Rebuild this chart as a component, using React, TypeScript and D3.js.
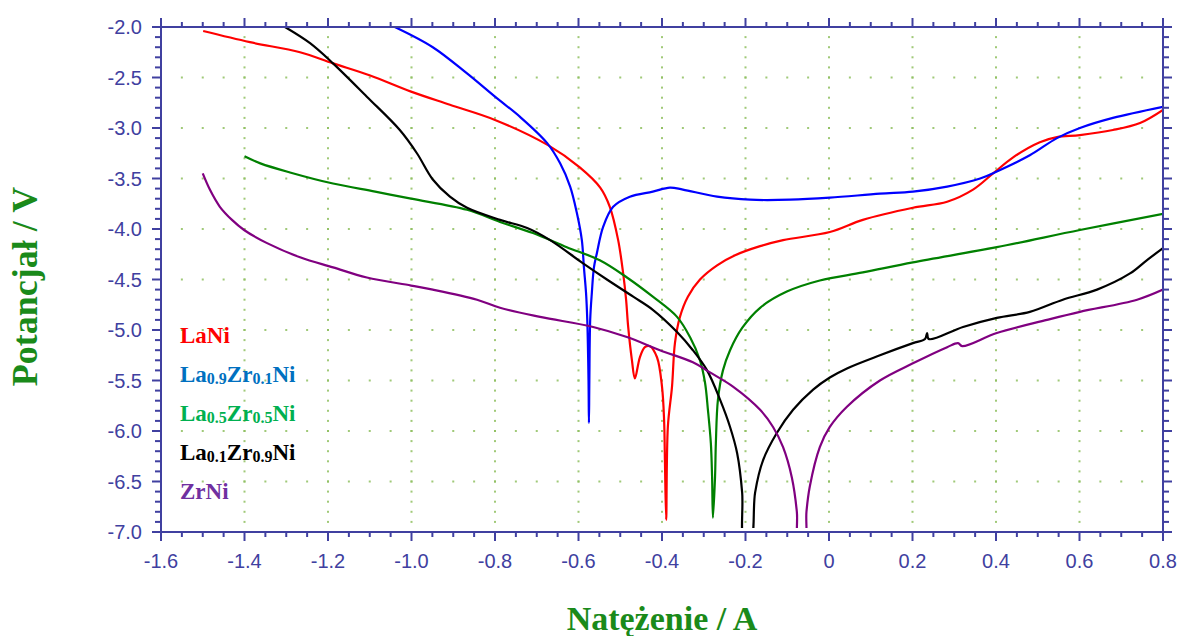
import React from "react";
import * as d3 from "d3";

// Polarisation curves: current (A) vs potential (V)
const laNi: [number, number][] = [
  [-1.499, -2.04], [-1.387, -2.15], [-1.267, -2.25], [-1.188, -2.36], [-1.099, -2.48],
  [-1.001, -2.64], [-0.908, -2.77], [-0.8, -2.92], [-0.673, -3.17], [-0.597, -3.39],
  [-0.548, -3.59], [-0.525, -3.78], [-0.505, -4.11], [-0.493, -4.44], [-0.486, -4.7],
  [-0.481, -4.97], [-0.472, -5.3], [-0.465, -5.48], [-0.453, -5.27], [-0.441, -5.17],
  [-0.429, -5.16], [-0.412, -5.27], [-0.4, -5.56], [-0.395, -5.89], [-0.393, -6.29],
  [-0.39, -6.88], [-0.386, -5.96], [-0.376, -5.56], [-0.369, -5.13], [-0.357, -4.87],
  [-0.338, -4.67], [-0.309, -4.5], [-0.268, -4.36], [-0.225, -4.26], [-0.165, -4.17],
  [-0.11, -4.11], [0.002, -4.03], [0.081, -3.91], [0.201, -3.79], [0.283, -3.73],
  [0.345, -3.61], [0.393, -3.45], [0.441, -3.29], [0.505, -3.14], [0.546, -3.09],
  [0.601, -3.07], [0.68, -3.02], [0.745, -2.95], [0.8, -2.82],
];

const la09Zr01Ni: [number, number][] = [
  [-1.04, -2.0], [-0.949, -2.2], [-0.867, -2.46], [-0.8, -2.69], [-0.74, -2.89],
  [-0.675, -3.15], [-0.644, -3.35], [-0.62, -3.58], [-0.604, -3.84], [-0.592, -4.11],
  [-0.587, -4.38], [-0.582, -4.63], [-0.579, -4.9], [-0.576, -5.5], [-0.575, -5.92],
  [-0.574, -5.5], [-0.572, -4.9], [-0.568, -4.63], [-0.563, -4.38], [-0.556, -4.24],
  [-0.541, -3.98], [-0.517, -3.78], [-0.477, -3.68], [-0.422, -3.63], [-0.381, -3.59],
  [-0.35, -3.61], [-0.268, -3.68], [-0.189, -3.71], [-0.093, -3.71], [0.002, -3.69],
  [0.122, -3.65], [0.201, -3.63], [0.283, -3.58], [0.362, -3.5], [0.402, -3.43],
  [0.481, -3.27], [0.546, -3.1], [0.601, -3.0], [0.68, -2.9], [0.8, -2.79],
];

const la05Zr05Ni: [number, number][] = [
  [-1.4, -3.28], [-1.362, -3.35], [-1.291, -3.44], [-1.188, -3.55], [-1.087, -3.63],
  [-1.001, -3.7], [-0.867, -3.81], [-0.788, -3.93], [-0.709, -4.04], [-0.628, -4.18],
  [-0.549, -4.31], [-0.484, -4.48], [-0.422, -4.67], [-0.364, -4.87], [-0.333, -5.07],
  [-0.309, -5.3], [-0.297, -5.52], [-0.29, -5.79], [-0.283, -6.12], [-0.28, -6.46],
  [-0.278, -6.86], [-0.273, -6.46], [-0.271, -6.12], [-0.266, -5.69], [-0.254, -5.4],
  [-0.237, -5.2], [-0.208, -4.98], [-0.165, -4.78], [-0.101, -4.62], [-0.022, -4.51],
  [0.081, -4.43], [0.201, -4.33], [0.402, -4.18], [0.601, -4.01], [0.8, -3.85],
];

const la01Zr09Ni: [number, number][] = [
  [-1.303, -2.0], [-1.243, -2.16], [-1.188, -2.36], [-1.107, -2.69], [-1.028, -3.02],
  [-0.987, -3.25], [-0.949, -3.51], [-0.908, -3.68], [-0.867, -3.79], [-0.788, -3.91],
  [-0.723, -3.99], [-0.668, -4.11], [-0.589, -4.34], [-0.532, -4.5], [-0.469, -4.67],
  [-0.422, -4.8], [-0.364, -5.02], [-0.326, -5.2], [-0.292, -5.4], [-0.261, -5.69],
  [-0.237, -5.96], [-0.22, -6.22], [-0.208, -6.61], [-0.203, -7.1], [-0.188, -7.1],
  [-0.177, -6.61], [-0.158, -6.29], [-0.125, -6.02], [-0.086, -5.79], [-0.038, -5.59],
  [0.002, -5.47], [0.043, -5.38], [0.122, -5.25], [0.201, -5.13], [0.23, -5.09],
  [0.235, -5.03], [0.239, -5.09], [0.321, -4.97], [0.402, -4.88], [0.481, -4.82],
  [0.56, -4.7], [0.642, -4.6], [0.721, -4.44], [0.761, -4.31], [0.8, -4.19],
];

const zrNi: [number, number][] = [
  [-1.5, -3.45], [-1.483, -3.61], [-1.459, -3.78], [-1.43, -3.91], [-1.401, -4.01],
  [-1.346, -4.14], [-1.267, -4.28], [-1.188, -4.38], [-1.107, -4.48], [-1.001, -4.56],
  [-0.949, -4.6], [-0.843, -4.7], [-0.788, -4.78], [-0.692, -4.87], [-0.565, -4.97],
  [-0.484, -5.07], [-0.405, -5.2], [-0.326, -5.32], [-0.285, -5.42], [-0.23, -5.56],
  [-0.165, -5.79], [-0.134, -5.96], [-0.11, -6.16], [-0.089, -6.46], [-0.077, -6.8],
  [-0.073, -7.1], [-0.058, -7.1], [-0.054, -6.8], [-0.046, -6.55], [-0.022, -6.16],
  [0.002, -5.96], [0.043, -5.76], [0.122, -5.5], [0.201, -5.33], [0.283, -5.17],
  [0.309, -5.13], [0.319, -5.16], [0.402, -5.03], [0.522, -4.9], [0.601, -4.82],
  [0.738, -4.7], [0.8, -4.6],
];

const seriesColors = ["#ff0000", "#0000ff", "#008000", "#000000", "#800080"];
const seriesData = [laNi, la09Zr01Ni, la05Zr05Ni, la01Zr09Ni, zrNi];

// Legend entries: [text, subscript] parts
const legendParts: [string, boolean][][] = [
  [["LaNi", false]],
  [["La", false], ["0.9", true], ["Zr", false], ["0.1", true], ["Ni", false]],
  [["La", false], ["0.5", true], ["Zr", false], ["0.5", true], ["Ni", false]],
  [["La", false], ["0.1", true], ["Zr", false], ["0.9", true], ["Ni", false]],
  [["ZrNi", false]],
];
const legendColors = ["#ff0000", "#0070c0", "#00b050", "#000000", "#7030a0"];

const xTickValues = [-1.6, -1.4, -1.2, -1.0, -0.8, -0.6, -0.4, -0.2, 0, 0.2, 0.4, 0.6, 0.8];
const xTickLabels = ["-1.6", "-1.4", "-1.2", "-1.0", "-0.8", "-0.6", "-0.4", "-0.2", "0", "0.2", "0.4", "0.6", "0.8"];
const yTickValues = [-2.0, -2.5, -3.0, -3.5, -4.0, -4.5, -5.0, -5.5, -6.0, -6.5, -7.0];
const yTickLabels = ["-2.0", "-2.5", "-3.0", "-3.5", "-4.0", "-4.5", "-5.0", "-5.5", "-6.0", "-6.5", "-7.0"];

const xTitle = "Natężenie / A";
const yTitle = "Potancjał / V";

const W = 1180;
const H = 636;
const M = { left: 161, right: 1163, top: 27, bottom: 532 };
const AXIS = "#4040a0";
const GRID = "#8fc060";
const TITLE = "#1a8a1a";

export default function App() {
  const x = d3.scaleLinear().domain([-1.6, 0.8]).range([M.left, M.right]);
  const y = d3.scaleLinear().domain([-7, -2]).range([M.bottom, M.top]);
  const line = d3
    .line<[number, number]>()
    .x((d) => x(d[0]))
    .y((d) => y(d[1]))
    .curve(d3.curveCatmullRom.alpha(0.5));

  const xMinor = d3.range(0, 49).map((i) => -1.6 + i * 0.05);
  const yMinor = d3.range(0, 51).map((i) => -7 + i * 0.1);
  const isMajorX = (v: number) => Math.abs(v * 5 - Math.round(v * 5)) < 1e-6;
  const isMajorY = (v: number) => Math.abs(v * 2 - Math.round(v * 2)) < 1e-6;

  // Dotted grid: dots along major lines at minor spacing
  const dots: { cx: number; cy: number }[] = [];
  yTickValues.slice(1, -1).forEach((yv) => {
    xMinor.slice(1, -1).forEach((xv) => dots.push({ cx: x(xv), cy: y(yv) }));
  });
  xTickValues.slice(1, -1).forEach((xv) => {
    yMinor.slice(1, -1).forEach((yv) => dots.push({ cx: x(xv), cy: y(yv) }));
  });

  return (
    <svg
      width={W}
      height={H}
      style={{ position: "absolute", left: 0, top: 0, background: "#fff" }}
    >
      <defs>
        <clipPath id="plot-clip">
          <rect x={M.left} y={M.top} width={M.right - M.left} height={M.bottom - M.top - 4} />
        </clipPath>
      </defs>

      {dots.map((d, i) => (
        <rect key={i} x={d.cx - 1} y={d.cy - 1} width={2} height={2} fill={GRID} opacity={0.85} />
      ))}

      <g clipPath="url(#plot-clip)">
        {seriesData.map((s, i) => (
          <path
            key={i}
            d={line(s) || ""}
            fill="none"
            stroke={seriesColors[i]}
            strokeWidth={2.2}
            strokeLinejoin="round"
          />
        ))}
      </g>

      {/* frame */}
      <rect
        x={M.left}
        y={M.top}
        width={M.right - M.left}
        height={M.bottom - M.top}
        fill="none"
        stroke={AXIS}
        strokeWidth={2}
      />

      {/* x ticks, top and bottom */}
      {xMinor.map((v, i) => {
        const len = isMajorX(v) ? 9 : 5;
        const px = x(v);
        return (
          <g key={"xt" + i} stroke={AXIS} strokeWidth={2}>
            <line x1={px} x2={px} y1={M.bottom} y2={M.bottom + len} />
            <line x1={px} x2={px} y1={M.top} y2={M.top - len} />
          </g>
        );
      })}
      {/* y ticks, left and right */}
      {yMinor.map((v, i) => {
        const len = isMajorY(v) ? 9 : 6;
        const py = y(v);
        return (
          <g key={"yt" + i} stroke={AXIS} strokeWidth={2}>
            <line x1={M.left} x2={M.left - len} y1={py} y2={py} />
            <line x1={M.right} x2={M.right + len} y1={py} y2={py} />
          </g>
        );
      })}

      {xTickValues.map((v, i) => (
        <text
          key={"xl" + i}
          x={x(v)}
          y={568}
          textAnchor="middle"
          fontFamily="'Liberation Sans', Arial, sans-serif"
          fontSize={20}
          fill={AXIS}
        >
          {xTickLabels[i]}
        </text>
      ))}
      {yTickValues.map((v, i) => (
        <text
          key={"yl" + i}
          x={142}
          y={y(v)}
          dy="0.36em"
          textAnchor="end"
          fontFamily="'Liberation Sans', Arial, sans-serif"
          fontSize={20}
          fill={AXIS}
        >
          {yTickLabels[i]}
        </text>
      ))}

      {/* legend */}
      {legendParts.map((parts, i) => (
        <text
          key={"lg" + i}
          x={180}
          y={343 + i * 39}
          fontFamily="'Liberation Serif', 'Times New Roman', serif"
          fontWeight="bold"
          fontSize={23}
          fill={legendColors[i]}
        >
          {parts.map(([t, sub], j) => (
            <tspan key={j} fontSize={sub ? 16 : 23} dy={sub ? 2 : j > 0 && parts[j - 1][1] ? -2 : 0}>
              {t}
            </tspan>
          ))}
        </text>
      ))}

      {/* axis titles */}
      <text
        x={(M.left + M.right) / 2}
        y={630}
        textAnchor="middle"
        fontFamily="'Liberation Serif', 'Times New Roman', serif"
        fontWeight="bold"
        fontSize={34}
        fill={TITLE}
      >
        {xTitle}
      </text>
      <text
        transform={`translate(37, ${(M.top + M.bottom) / 2 + 7}) rotate(-90)`}
        textAnchor="middle"
        fontFamily="'Liberation Serif', 'Times New Roman', serif"
        fontWeight="bold"
        fontSize={36}
        fill={TITLE}
      >
        {yTitle}
      </text>
    </svg>
  );
}
